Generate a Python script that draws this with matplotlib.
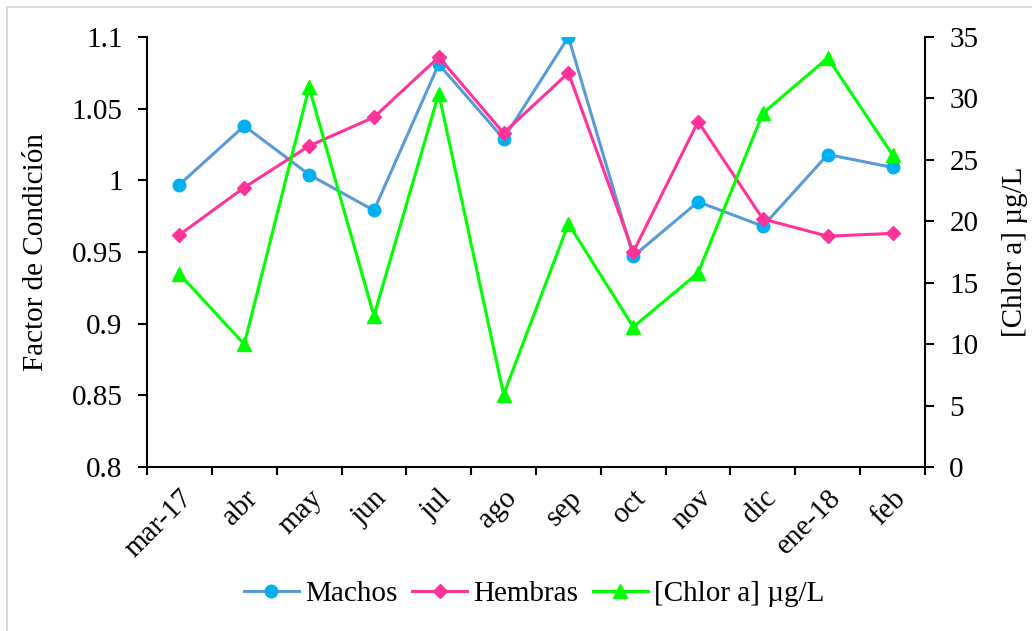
import matplotlib
matplotlib.use("Agg")
import matplotlib.pyplot as plt
from matplotlib.lines import Line2D
from matplotlib.ticker import FuncFormatter, FixedLocator

months = ["mar-17", "abr", "may", "jun", "jul", "ago", "sep", "oct", "nov", "dic", "ene-18", "feb"]
machos = [0.997, 1.038, 1.004, 0.979, 1.081, 1.029, 1.100, 0.947, 0.985, 0.968, 1.018, 1.009]
hembras = [0.962, 0.995, 1.024, 1.044, 1.086, 1.033, 1.075, 0.950, 1.041, 0.973, 0.961, 0.963]
chlor = [15.7, 10.0, 30.9, 12.3, 30.4, 5.9, 19.8, 11.4, 15.8, 28.8, 33.3, 25.4]

plt.rcParams['font.family'] = ['Liberation Serif', 'DejaVu Serif']
FS = 21

W, H = 1032, 631
fig = plt.figure(figsize=(W/100, H/100), dpi=100)
L, R, T, B = 147, 925, 37, 467
ax = fig.add_axes([L/W, 1-B/H, (R-L)/W, (B-T)/H])
ax2 = ax.twinx()

x = list(range(len(months)))
ax.plot(x, machos, color='#5B9BD5', lw=2.2, marker='o', ms=9, mfc='#00B0F0', mec='#00B0F0', label='Machos')
ax.plot(x, hembras, color='#FF3399', lw=2.2, marker='D', ms=7.5, mfc='#FF3399', mec='#FF3399', label='Hembras')
ax2.plot(x, chlor, color='#00FF00', lw=2.2, marker='^', ms=10, mfc='#00FF00', mec='#00FF00', label='[Chlor a] µg/L')

ax.set_xlim(-0.5, len(months)-0.5)
ax.set_ylim(0.8, 1.1)
ax2.set_ylim(0, 35)
ax.set_yticks([0.8 + 0.05*i for i in range(7)])
ax.yaxis.set_major_formatter(FuncFormatter(lambda v, p: f'{round(v, 3):g}'))
ax2.set_yticks(range(0, 36, 5))

# category boundaries as ticks, labels at centres
ax.xaxis.set_major_locator(FixedLocator([i - 0.5 for i in range(len(months)+1)]))
ax.xaxis.set_major_formatter(FuncFormatter(lambda v, p: ''))
ax.set_xticks(x, minor=True)
ax.set_xticklabels(months, minor=True, rotation=45, ha='right', rotation_mode='anchor', fontsize=FS)
ax.tick_params(axis='x', which='minor', length=0, pad=13)
ax.tick_params(axis='x', which='major', length=6, width=1.5, direction='out')
ax.tick_params(axis='y', length=6.5, width=1.5, direction='out', labelsize=FS, pad=11)
ax2.tick_params(axis='y', length=6.5, width=1.5, direction='out', labelsize=FS, pad=11)

for a in (ax, ax2):
    a.spines['top'].set_visible(False)
    for s in ('left', 'right', 'bottom'):
        a.spines[s].set_linewidth(1.5)
ax.spines['right'].set_visible(False)
ax2.spines['left'].set_visible(False)
ax2.spines['bottom'].set_visible(False)

ax.set_ylabel('Factor de Condición', fontsize=FS)
ax2.set_ylabel('[Chlor a] µg/L', fontsize=FS)
ax.yaxis.set_label_coords((49-L)/(R-L), 0.5)
ax2.yaxis.set_label_coords((1002-L)/(R-L), 0.5)

h1, l1 = ax.get_legend_handles_labels()
h2, l2 = ax2.get_legend_handles_labels()
fig.legend(h1 + h2, l1 + l2, loc='center', bbox_to_anchor=(534/W, 1-594/H), ncol=3,
           frameon=False, fontsize=FS, handlelength=1.9, handletextpad=0.2, columnspacing=0.5,
           borderpad=0)

# light grey outer border (top and left visible)
fig.add_artist(Line2D([7/W, 7/W], [0, 1-7/H], color='#D9D9D9', lw=1.5, transform=fig.transFigure))
fig.add_artist(Line2D([7/W, 1], [1-7/H, 1-7/H], color='#D9D9D9', lw=1.5, transform=fig.transFigure))

fig.savefig('out.png', dpi=100)
